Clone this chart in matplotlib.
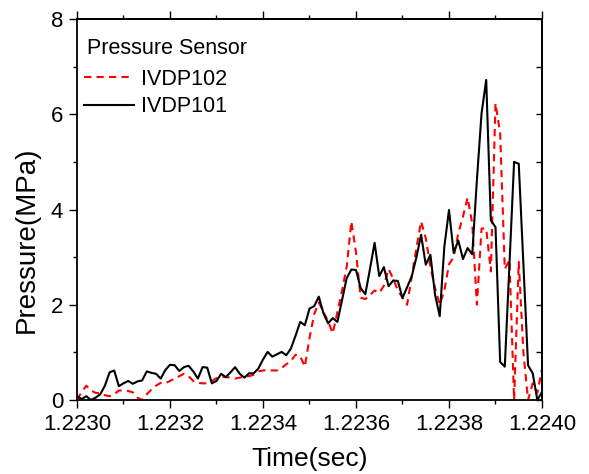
import numpy as np
import matplotlib
matplotlib.use("Agg")
import matplotlib.pyplot as plt
from matplotlib.ticker import MultipleLocator, FormatStrFormatter

plt.rcParams['font.family'] = ['Liberation Sans', 'DejaVu Sans']

t_start = 1.2230
t_step = 0.00001

ivdp101 = [0.08, 0.02, 0.08, 0.0, 0.05, 0.12, 0.3, 0.58, 0.62, 0.29,
           0.35, 0.4, 0.34, 0.39, 0.41, 0.6, 0.57, 0.55, 0.45, 0.63,
           0.74, 0.73, 0.61, 0.69, 0.72, 0.6, 0.45, 0.69, 0.68, 0.35,
           0.4, 0.55, 0.48, 0.58, 0.69, 0.55, 0.47, 0.56, 0.56, 0.66,
           0.85, 1.01, 0.91, 0.96, 1.01, 0.94, 1.08, 1.35, 1.64, 1.57,
           1.92, 1.97, 2.17, 1.82, 1.61, 1.72, 1.64, 2.1, 2.56, 2.74,
           2.73, 2.35, 2.22, 2.75, 3.3, 2.6, 2.79, 2.39, 2.51, 2.5,
           2.14, 2.37, 2.6, 3.0, 3.47, 2.84, 3.05, 2.21, 1.76, 3.22,
           3.99, 3.09, 3.35, 2.96, 3.19, 3.06, 4.62, 6.02, 6.72, 3.77,
           3.63, 0.8, 0.7, 2.85, 5.0, 4.96, 2.85, 0.73, 0.56, 0.0,
           0.17]

ivdp102 = [0.0, 0.17, 0.3, 0.2, 0.15, 0.14, 0.1, 0.08, 0.12, 0.2,
           0.2, 0.19, 0.16, 0.05, 0.0, 0.12, 0.22, 0.3, 0.36, 0.35,
           0.4, 0.45, 0.5, 0.55, 0.5, 0.4, 0.36, 0.35, 0.35, 0.4,
           0.46, 0.49, 0.48, 0.47, 0.45, 0.47, 0.49, 0.5, 0.53, 0.6,
           0.62, 0.63, 0.62, 0.62, 0.67, 0.75, 0.82, 0.95, 0.92, 0.7,
           1.3, 1.8, 2.05, 1.85, 1.65, 1.4, 1.85, 2.3, 2.8, 3.75,
           3.1, 2.15, 2.12, 2.2, 2.3, 2.25, 2.4, 2.75, 2.55, 2.3,
           2.15, 2.0, 2.6, 3.2, 3.75, 3.4, 2.8, 2.35, 2.0, 2.3,
           2.85, 3.0, 3.5, 3.85, 4.25, 3.7, 2.0, 3.6, 3.6, 2.7,
           6.23, 5.6, 2.75, 2.94, 0.0, 2.9, 1.0, 0.0, 0.35, 0.15,
           0.65]

x_ticks = [1.2230, 1.2232, 1.2234, 1.2236, 1.2238, 1.2240]
y_ticks = [0, 2, 4, 6, 8]
legend_title = 'Pressure Sensor'

t = t_start + t_step * np.arange(len(ivdp101))

W, H = 589, 474
fig = plt.figure(figsize=(W/100, H/100), dpi=100)
ax = fig.add_axes([77/W, 1-400/H, (542-77)/W, (400-19)/H])

ax.plot(t, ivdp102, color='#ff0000', lw=1.5, dashes=(3.5, 2.5), label='IVDP102')
ax.plot(t, ivdp101, color='black', lw=1.5, label='IVDP101')

ax.set_xlim(1.2230, 1.2240)
ax.set_ylim(0, 8)
ax.set_xticks(x_ticks)
ax.set_yticks(y_ticks)
ax.xaxis.set_major_formatter(FormatStrFormatter('%.4f'))
ax.xaxis.set_minor_locator(MultipleLocator(0.0001))
ax.yaxis.set_minor_locator(MultipleLocator(1))

for s in ax.spines.values():
    s.set_linewidth(1.3)

ax.tick_params(which='major', direction='out', length=6, width=1.0,
               labelsize=16, pad=4)
ax.tick_params(which='minor', direction='out', length=3, width=1.0)

top = ax.secondary_xaxis('top')
top.set_xticks(x_ticks)
top.xaxis.set_minor_locator(MultipleLocator(0.0001))
top.tick_params(which='major', direction='out', length=6, width=1.0, labeltop=False)
top.tick_params(which='minor', direction='out', length=3, width=1.0)
top.spines['top'].set_linewidth(1.3)

right = ax.secondary_yaxis('right')
right.set_yticks(y_ticks)
right.yaxis.set_minor_locator(MultipleLocator(1))
right.tick_params(which='both', direction='in', length=4, width=1.0, labelright=False)
right.spines['right'].set_linewidth(1.3)

ax.set_xlabel('Time(sec)', fontsize=19, labelpad=9)
ax.set_ylabel('Pressure(MPa)', fontsize=20)
ax.yaxis.set_label_coords(-0.08, 0.42)

# legend title placed as text, entries as legend
ax.text((87-77)/465, (400-48)/381, legend_title, transform=ax.transAxes,
        fontsize=15.5, ha='left', va='center')
leg = ax.legend(frameon=False, loc='upper left',
                bbox_to_anchor=((84-77)/465, (400-69)/381),
                fontsize=15.5, handlelength=2.3, handletextpad=0.35,
                labelspacing=0.3, borderaxespad=0.0, borderpad=0.0)

fig.savefig('out.png', dpi=100)
